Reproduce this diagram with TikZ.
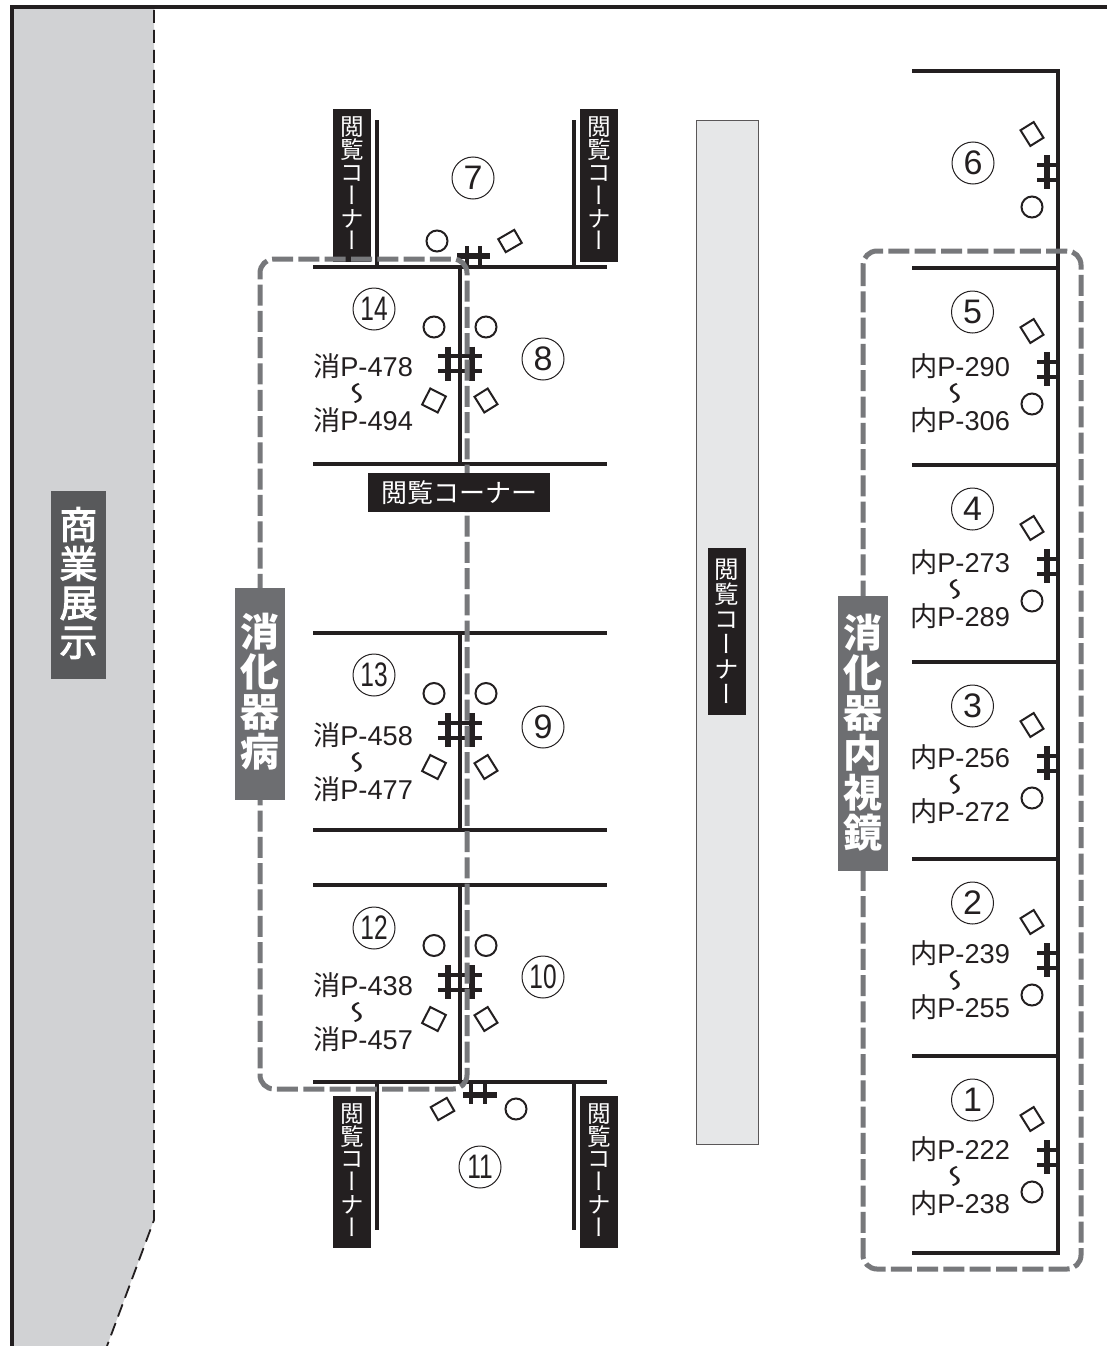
\documentclass[tikz,border=0pt]{standalone}
\usepackage{fontspec}
\usepackage{graphicx}
\setmainfont{Liberation Sans}
\newfontfamily\cjk{Noto Sans CJK JP}
\newfontfamily\cjkv[RawFeature={+vert}]{Noto Sans CJK JP}
\newfontfamily\cjkm[RawFeature={+vert;embolden=2.5}]{Noto Sans CJK JP}
\definecolor{ink}{HTML}{231F20}
\definecolor{dashgray}{HTML}{77787B}
\definecolor{panelgray}{HTML}{6D6E71}
\definecolor{zonegray}{HTML}{D1D2D4}
\definecolor{barfill}{HTML}{E6E7E8}
\definecolor{signgray}{HTML}{58595B}
\tikzset{
 wall/.style={draw=ink,line width=3.3pt},
 stairbar/.style={draw=ink,line width=6pt},
 stairthin/.style={draw=ink,line width=4pt},
 zonedash/.style={draw=dashgray,line width=5pt,dash pattern=on 21pt off 5.3pt,rounded corners=14pt},
 numc/.style={circle,draw=ink,line width=1pt,minimum size=42pt,inner sep=0pt,text=ink,font=\fontsize{34}{34}\selectfont},
 round/.style={circle,draw=ink,line width=2pt,minimum size=21pt,inner sep=0pt},
 boothl/.style={rectangle,draw=ink,line width=2pt,minimum width=17.5pt,minimum height=18pt,inner sep=0pt,rotate=-27},
 boothr/.style={rectangle,draw=ink,line width=2pt,minimum width=15.5pt,minimum height=18.5pt,inner sep=0pt,rotate=32},
 bootht/.style={rectangle,draw=ink,line width=2pt,minimum width=18.5pt,minimum height=15pt,inner sep=0pt,rotate=30},
 rng/.style={text=ink,inner sep=0pt,font=\fontsize{27.2}{27.2}\selectfont},
 tilde/.style={text=ink,inner sep=0pt,font=\cjk\fontsize{22}{22}\selectfont},
 vbox/.style={fill=ink,inner sep=0pt,minimum width=38pt},
 vtxt/.style={text=white,inner sep=0pt,align=center,font=\cjkv\fontsize{23.6}{22.8}\selectfont},
 signbox/.style={inner sep=0pt,minimum width=50pt},
 sign/.style={text=white,inner sep=0pt,align=center,font=\cjkv\bfseries\fontsize{39}{40}\selectfont},
}
\newcommand{\vtext}{閲\\覧\\コ\\ー\\ナ\\ー}
\newcommand{\wave}{\rotatebox{90}{\scalebox{-1}[1.7]{〜}}}
\newcommand{\stairV}[2]{% x, y
 \draw[stairbar] (#1,#2-17) -- (#1,#2+17);
 \draw[stairthin] (#1-10,#2-7.5) -- (#1+11,#2-7.5);
 \draw[stairthin] (#1-10,#2+7.5) -- (#1+11,#2+7.5);
}
\newcommand{\stairC}[1]{% centre pair at y
 \draw[stairbar] (448,#1-17) -- (448,#1+17);
 \draw[stairbar] (472,#1-17) -- (472,#1+17);
 \draw[stairthin] (438,#1-7.5) -- (482,#1-7.5);
 \draw[stairthin] (438,#1+7.5) -- (482,#1+7.5);
}
\newcommand{\lrow}[9]{% id, stairY, numY, num, numR, top, bottom, textY, numRY
 \stairC{#2}
 \node[round] (cl#1) at (434,#2-36.5) {};
 \node[round] (cr#1) at (486,#2-36.5) {};
 \node[boothl] (dl#1) at (434,#2+37) {};
 \node[boothr] (dr#1) at (486,#2+37) {};
 \node[numc] (nl#1) at (374,#3) {\scalebox{.72}[1]{#4}};
 \node[numc] (nr#1) at (543,#9) {#5};
 \node[rng] (ta#1) at (363,#8) {{\cjk 消}P-#6};
 \node[tilde] (tm#1) at (362,#8+27) {\wave};
 \node[rng] (tb#1) at (363,#8+54) {{\cjk 消}P-#7};
}
\newcommand{\rrow}[5]{% id, wallY, top text, bottom text, textY
 \node[numc] (n#1) at (972.5,#2+44) {#1};
 \node[boothr] (d#1) at (1032,#2+63) {};
 \stairV{1047}{#2+101}
 \node[round] (c#1) at (1032,#2+136) {};
 \node[rng] (ta#1) at (960,#5) {{\cjk 内}P-#3};
 \node[tilde] (tm#1) at (960,#5+27) {\wave};
 \node[rng] (tb#1) at (960,#5+54) {{\cjk 内}P-#4};
}
\newcommand{\vlab}[4]{% name, x, y, height
 \node[vbox,minimum height=#4pt] (#1) at (#2,#3) {};
 \node[vtxt] (#1t) at (#2,#3-2) {\vtext};
}
\begin{document}
\begin{tikzpicture}[x=1pt,y=-1pt]
\useasboundingbox (0,0) rectangle (1107,1346);
\fill[white] (0,0) rectangle (1107,1346);
% sales zone
\fill[zonegray] (12,7) -- (154,7) -- (154,1220) -- (107,1346) -- (12,1346) -- cycle;
\draw[ink,line width=1.8pt,dash pattern=on 13pt off 7pt] (154,10) -- (154,1220) -- (107,1346);
\draw[ink,line width=3.4pt] (12,1346) -- (12,7) -- (1107,7);
% central bar
\draw[ink!75,line width=1pt,fill=barfill] (696,120) rectangle (758.5,1144);
% left block walls
\foreach \yy in {267,464,633,830,885,1082} \draw[wall] (313,\yy) -- (607,\yy);
\draw[wall] (460,267) -- (460,464);
\draw[wall] (460,633) -- (460,830);
\draw[wall] (460,885) -- (460,1082);
\draw[wall] (377,120) -- (377,267);
\draw[wall] (574,120) -- (574,267);
\draw[wall] (377,1082) -- (377,1230);
\draw[wall] (574,1082) -- (574,1230);
% right block walls
\foreach \yy in {71,268,465,662,859,1056,1253} \draw[wall] (912,\yy) -- (1059.5,\yy);
\draw[wall] (1058,69.4) -- (1058,1254.6);
% stairs top and bottom of the left block
\draw[stairthin] (467,246) -- (467,267);
\draw[stairthin] (480,246) -- (480,267);
\draw[stairbar] (457,256) -- (490,256);
\draw[stairthin] (471,1082) -- (471,1104);
\draw[stairthin] (485,1082) -- (485,1104);
\draw[stairbar] (463,1095) -- (497,1095);
\node[numc] (n7) at (473,178) {7};
\node[round] (c7) at (437,241) {};
\node[bootht] (d7) at (510,241) {};
\node[numc] (n11) at (480,1167) {\scalebox{.72}[1]{11}};
\node[round] (c11) at (516,1109) {};
\node[bootht] (d11) at (442.5,1109) {};
\lrow{a}{363.5}{309}{14}{8}{478}{494}{366}{359}
\lrow{b}{730}{675}{13}{9}{458}{477}{735}{727}
\lrow{c}{982}{928}{12}{\scalebox{.72}[1]{10}}{438}{457}{985}{977}
% right rows
\node[numc] (n6) at (973,163) {6};
\node[boothr] (d6) at (1032,134) {};
\stairV{1047}{172}
\node[round] (c6) at (1032,207) {};
\rrow{5}{268}{290}{306}{366}
\rrow{4}{465}{273}{289}{562.5}
\rrow{3}{662}{256}{272}{757.5}
\rrow{2}{859}{239}{255}{953.5}
\rrow{1}{1056}{222}{238}{1149}
% corner labels
\vlab{v1}{352}{185.5}{153}
\vlab{v2}{599}{185.5}{153}
\vlab{v3}{352}{1172}{152}
\vlab{v4}{599}{1172}{152}
% zones
\draw[zonedash] (467,512) -- (467,259) -- (260,259) -- (260,1089) -- (467,1089) -- (467,512);
\draw[zonedash] (863,251) rectangle (1081,1269);
\node[fill=ink,text=white,inner sep=0pt,minimum width=182pt,minimum height=39pt,font=\cjk\fontsize{26}{26}\selectfont] (h1) at (459,492.5) {閲覧コーナー};
\node[vbox,minimum height=167pt] (v5) at (727,631.5) {};
\node[vtxt,font=\cjkv\fontsize{24.5}{25}\selectfont] (v5t) at (727,631) {\vtext};
\node[signbox,fill=signgray,minimum width=55pt,minimum height=188pt] (s1) at (78.5,585) {};
\node[sign,font=\cjkm\fontsize{38}{39}\selectfont] (s1t) at (78.5,583) {商\\業\\展\\示};
\node[signbox,fill=panelgray,minimum height=212pt] (s2) at (260,694) {};
\node[sign] (s2t) at (260,692) {消\\化\\器\\病};
\node[signbox,fill=panelgray,minimum height=275pt] (s3) at (863,733.5) {};
\node[sign] (s3t) at (863,733) {消\\化\\器\\内\\視\\鏡};
\end{tikzpicture}
\end{document}
